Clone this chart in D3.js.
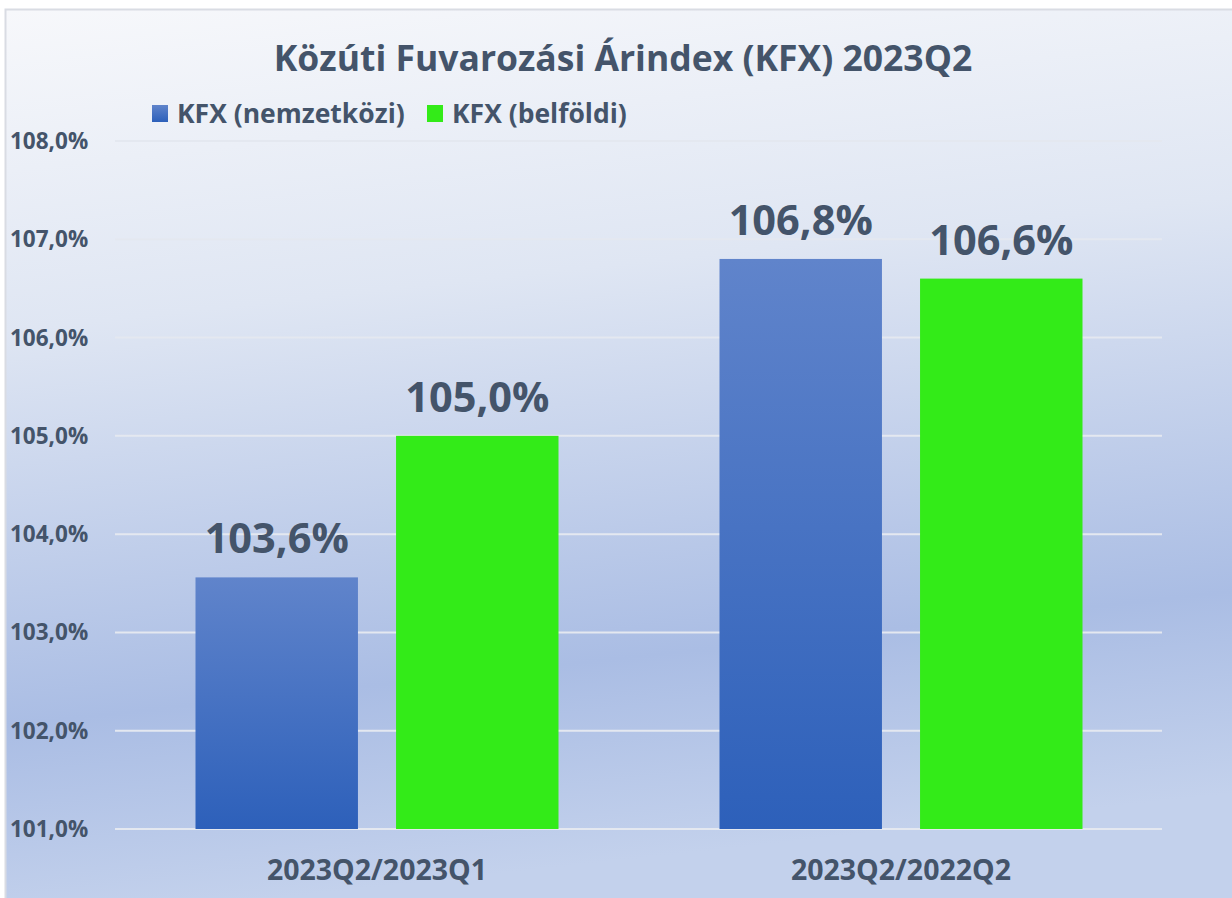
<!DOCTYPE html>
<html>
<head>
<meta charset="utf-8">
<script src="https://cdnjs.cloudflare.com/ajax/libs/d3/7.8.5/d3.min.js"></script>
<style>
  body { margin: 0; background: #fff; }
  text { font-family: "Open Sans", Lato, sans-serif; font-weight: 700; fill: #44546a; }
</style>
</head>
<body>
<div id="chart-container"></div>
<script>
// adatok
const categories = ["2023Q2/2023Q1", "2023Q2/2022Q2"];
const seriesNames = ["KFX (nemzetközi)", "KFX (belföldi)"];
const nemzetkozi = [103.56, 106.8];
const belfoldi = [105.0, 106.6];
const yTicks = [101, 102, 103, 104, 105, 106, 107, 108];

const W = 1232, H = 898;
const margin = { top: 141, right: 69, bottom: 70, left: 115 };
const width = W - margin.left - margin.right;
const height = 829 - margin.top;

const fmt = v => v.toFixed(1).replace(".", ",") + "%";

const svg = d3.select("#chart-container")
  .append("svg")
  .attr("width", W)
  .attr("height", H);

const defs = svg.append("defs");

// háttér színátmenet
const bg = defs.append("linearGradient")
  .attr("id", "bg")
  .attr("x1", "0%").attr("y1", "0%")
  .attr("x2", "15%").attr("y2", "100%");
bg.append("stop").attr("offset", "0%").attr("stop-color", "#f7f8fb");
bg.append("stop").attr("offset", "35%").attr("stop-color", "#dfe6f3");
bg.append("stop").attr("offset", "78%").attr("stop-color", "#aabde4");
bg.append("stop").attr("offset", "100%").attr("stop-color", "#c3d1ec");

// kék oszlop színátmenet
const blue = defs.append("linearGradient")
  .attr("id", "blueGrad")
  .attr("x1", "0%").attr("y1", "0%")
  .attr("x2", "0%").attr("y2", "100%");
blue.append("stop").attr("offset", "0%").attr("stop-color", "#6084cb");
blue.append("stop").attr("offset", "100%").attr("stop-color", "#2d60ba");

svg.append("rect")
  .attr("x", 5.5).attr("y", 9.5)
  .attr("width", W).attr("height", H)
  .attr("fill", "url(#bg)")
  .attr("stroke", "#d9dce3")
  .attr("stroke-width", 2);

const g = svg.append("g")
  .attr("transform", `translate(${margin.left},${margin.top})`);

const x0 = d3.scaleBand()
  .domain(categories)
  .range([0, width])
  .paddingInner(0)
  .paddingOuter(0);

const x1 = d3.scaleBand()
  .domain(seriesNames)
  .range([0, 363])
  .paddingInner(0.19);

const y = d3.scaleLinear()
  .domain([101, 108])
  .range([height, 0]);

// rácsvonalak
g.append("g")
  .selectAll("line")
  .data(yTicks)
  .join("line")
  .attr("x1", 0)
  .attr("x2", width - 1)
  .attr("y1", d => y(d))
  .attr("y2", d => y(d))
  .attr("stroke", "#e4e8f0")
  .attr("stroke-width", 2);

// y tengely feliratok
g.append("g")
  .selectAll("text")
  .data(yTicks)
  .join("text")
  .attr("x", -105)
  .attr("y", d => y(d) + 8)
  .style("font-size", "22.5px")
  .text(d => fmt(d));

const rows = categories.map((c, i) => ({
  cat: c,
  values: [
    { s: seriesNames[0], v: nemzetkozi[i] },
    { s: seriesNames[1], v: belfoldi[i] }
  ]
}));

const groups = g.selectAll(".grp")
  .data(rows)
  .join("g")
  .attr("class", "grp")
  .attr("transform", d => `translate(${x0(d.cat) + (x0.bandwidth() - 363) / 2},0)`);

groups.selectAll("rect")
  .data(d => d.values)
  .join("rect")
  .attr("x", d => x1(d.s))
  .attr("width", x1.bandwidth())
  .attr("y", d => y(d.v))
  .attr("height", d => y(101) - y(d.v))
  .attr("fill", d => d.s === seriesNames[0] ? "url(#blueGrad)" : "#33eb18");

// érték feliratok
groups.selectAll(".val")
  .data(d => d.values)
  .join("text")
  .attr("class", "val")
  .attr("x", d => x1(d.s) + x1.bandwidth() / 2)
  .attr("y", d => y(d.v) - 24)
  .attr("text-anchor", "middle")
  .style("font-size", "41.5px")
  .text(d => fmt(d.v));

// x tengely feliratok
g.append("g")
  .selectAll("text")
  .data(categories)
  .join("text")
  .attr("x", d => x0(d) + x0.bandwidth() / 2)
  .attr("y", height + 51)
  .attr("text-anchor", "middle")
  .style("font-size", "28.5px")
  .text(d => d);

// cím
svg.append("text")
  .attr("x", 623)
  .attr("y", 71)
  .attr("text-anchor", "middle")
  .style("font-size", "35.5px")
  .text("Közúti Fuvarozási Árindex (KFX) 2023Q2");

// jelmagyarázat
const legendX = [152, 427];
const leg = svg.append("g")
  .selectAll("g")
  .data(seriesNames)
  .join("g")
  .attr("transform", (d, i) => `translate(${legendX[i]},105)`);

leg.append("rect")
  .attr("width", 16)
  .attr("height", 17)
  .attr("fill", (d, i) => i === 0 ? "url(#blueGrad)" : "#33eb18");

leg.append("text")
  .attr("x", 25)
  .attr("y", 18)
  .style("font-size", "26.5px")
  .text(d => d);
</script>
</body>
</html>
